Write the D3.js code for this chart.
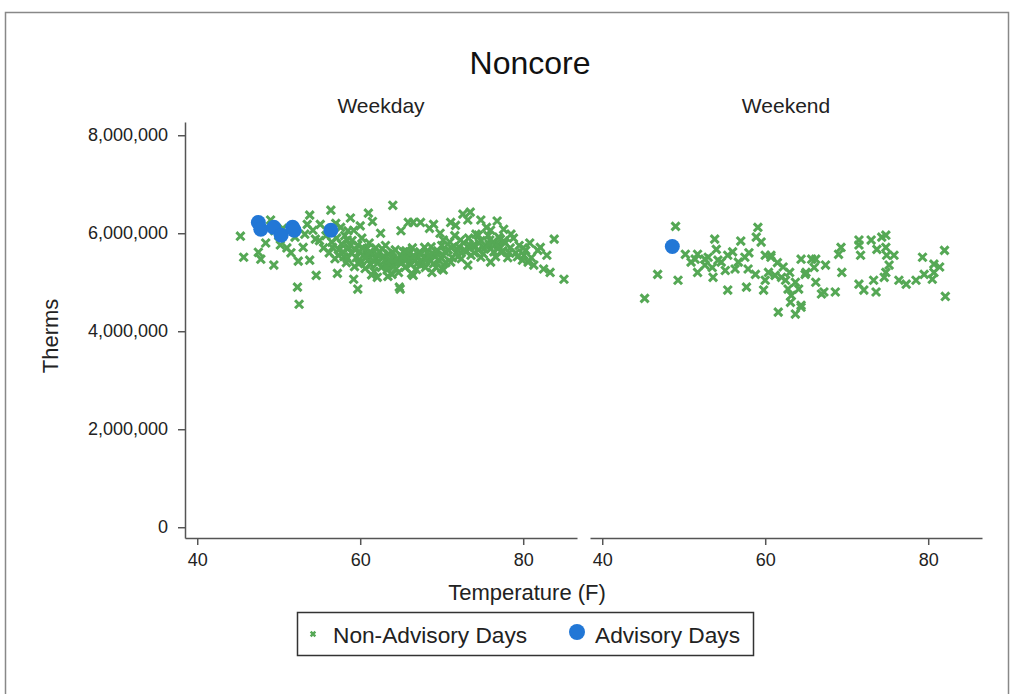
<!DOCTYPE html>
<html>
<head>
<meta charset="utf-8">
<script src="https://cdn.jsdelivr.net/npm/d3@7"></script>
<style>
  body { margin: 0; background: #fff; }
  text { font-family: "Liberation Sans", Arial, sans-serif; fill: #222; }
</style>
</head>
<body>
<main></main>
<script>
// [temperature (F), therms]
const weekdayNonAdvisory = [
  [45.3, 5.94e6], [45.7, 5.51e6], [47.5, 5.61e6], [47.8, 5.47e6], [49.4, 5.35e6],
  [49.0, 6.27e6], [48.4, 5.80e6], [50.2, 5.76e6], [52.3, 4.90e6], [52.5, 4.55e6],
  [52.4, 5.43e6], [51.0, 5.70e6], [53.8, 6.37e6], [56.4, 6.47e6], [58.8, 6.31e6],
  [61.0, 6.41e6], [61.5, 6.24e6], [64.0, 6.57e6], [65.9, 6.22e6], [54.6, 5.14e6],
  [53.8, 5.45e6], [53.0, 5.71e6], [53.2, 5.98e6], [55.1, 6.18e6], [54.2, 6.06e6],
  [57.2, 5.18e6], [59.2, 5.06e6], [59.7, 4.86e6], [64.8, 4.90e6], [62.1, 5.10e6],
  [63.9, 5.16e6], [57.6, 6.12e6], [59.2, 6.06e6], [58.4, 5.86e6], [56.6, 5.71e6],
  [66.5, 6.22e6], [67.4, 6.22e6], [69.0, 6.18e6], [71.1, 6.22e6], [71.7, 6.16e6],
  [72.6, 6.39e6], [73.5, 6.43e6], [74.8, 6.27e6], [73.2, 6.27e6], [77.6, 6.08e6],
  [78.5, 5.98e6], [76.0, 6.06e6], [74.5, 5.96e6], [77.0, 5.92e6], [83.8, 5.88e6],
  [85.0, 5.06e6], [82.1, 5.71e6], [82.9, 5.55e6], [82.5, 5.27e6], [83.3, 5.20e6],
  [80.6, 5.41e6], [80.1, 5.55e6], [81.8, 5.65e6], [70.2, 5.25e6], [66.5, 5.14e6],
  [64.9, 4.86e6], [71.1, 5.41e6], [73.2, 5.35e6], [74.8, 5.51e6], [76.0, 5.41e6],
  [77.3, 5.61e6], [72.3, 5.86e6], [72.0, 5.65e6], [74.0, 5.71e6], [67.9, 5.71e6],
  [69.0, 5.57e6], [67.4, 5.35e6], [65.7, 5.55e6], [70.2, 5.86e6], [75.9, 5.86e6],
  [55.0, 5.85e6], [55.5, 5.70e6], [55.8, 5.95e6], [56.2, 5.60e6], [56.5, 5.82e6],
  [56.9, 5.48e6], [57.1, 5.90e6], [57.4, 5.66e6], [57.7, 5.78e6], [58.0, 5.52e6],
  [58.1, 5.95e6], [58.3, 5.40e6], [58.6, 5.70e6], [58.9, 5.60e6], [59.0, 5.85e6],
  [59.3, 5.32e6], [59.5, 5.50e6], [59.7, 5.76e6], [59.9, 5.62e6], [60.1, 5.42e6],
  [60.2, 5.90e6], [60.4, 5.55e6], [60.6, 5.28e6], [60.8, 5.68e6], [61.0, 5.46e6],
  [61.1, 5.80e6], [61.3, 5.36e6], [61.5, 5.58e6], [61.7, 5.22e6], [61.9, 5.70e6],
  [62.0, 5.48e6], [62.2, 5.40e6], [62.4, 5.62e6], [62.6, 5.30e6], [62.8, 5.52e6],
  [63.0, 5.44e6], [63.1, 5.75e6], [63.3, 5.25e6], [63.5, 5.58e6], [63.7, 5.38e6],
  [63.9, 5.50e6], [64.1, 5.32e6], [64.3, 5.66e6], [64.5, 5.45e6], [64.7, 5.20e6],
  [64.9, 5.55e6], [65.1, 5.40e6], [65.3, 5.62e6], [65.5, 5.30e6], [65.8, 5.48e6],
  [66.0, 5.58e6], [66.2, 5.36e6], [66.4, 5.70e6], [66.7, 5.44e6], [66.9, 5.26e6],
  [67.1, 5.52e6], [67.3, 5.62e6], [67.6, 5.40e6], [67.8, 5.50e6], [68.0, 5.30e6],
  [68.2, 5.60e6], [68.5, 5.45e6], [68.7, 5.72e6], [69.0, 5.38e6], [69.2, 5.52e6],
  [69.5, 5.64e6], [69.7, 5.44e6], [70.0, 5.75e6], [70.2, 5.55e6], [70.5, 5.40e6],
  [70.8, 5.66e6], [71.0, 5.82e6], [71.3, 5.50e6], [71.6, 5.95e6], [71.8, 5.60e6],
  [72.1, 5.72e6], [72.4, 5.48e6], [72.7, 5.80e6], [73.0, 5.62e6], [73.3, 5.90e6],
  [73.6, 5.55e6], [73.9, 5.76e6], [74.2, 5.98e6], [74.5, 5.66e6], [74.8, 5.85e6],
  [75.1, 5.58e6], [75.4, 5.74e6], [75.7, 5.95e6], [76.0, 5.68e6], [76.3, 5.82e6],
  [76.6, 5.52e6], [76.9, 5.76e6], [77.2, 5.88e6], [77.5, 5.64e6], [77.8, 5.80e6],
  [78.1, 5.50e6], [78.4, 5.70e6], [78.8, 5.90e6], [79.1, 5.60e6], [79.5, 5.75e6],
  [79.9, 5.45e6], [80.3, 5.65e6], [80.8, 5.80e6], [81.3, 5.35e6],
  [57.0, 6.20e6], [58.5, 6.05e6], [60.0, 6.15e6], [62.5, 6.00e6], [65.0, 6.05e6],
  [68.5, 6.10e6], [69.8, 6.00e6], [75.5, 6.12e6], [76.8, 6.25e6],
  [49.5, 6.05e6], [50.5, 6.10e6], [52.0, 5.92e6], [53.5, 6.18e6], [54.5, 5.88e6],
  [51.5, 5.60e6], [50.0, 5.95e6],
  [57.3, 5.55e6], [57.9, 5.62e6], [58.4, 5.48e6], [58.8, 5.75e6], [59.4, 5.66e6],
  [59.8, 5.38e6], [60.3, 5.70e6], [60.7, 5.50e6], [61.2, 5.62e6], [61.6, 5.44e6],
  [62.1, 5.56e6], [62.7, 5.68e6], [63.2, 5.34e6], [63.6, 5.46e6], [64.0, 5.60e6],
  [64.4, 5.28e6], [64.8, 5.42e6], [65.2, 5.52e6], [65.6, 5.64e6], [66.1, 5.46e6],
  [66.6, 5.54e6], [67.0, 5.38e6], [67.5, 5.58e6], [68.1, 5.46e6], [68.6, 5.56e6],
  [69.3, 5.30e6], [69.9, 5.50e6], [70.4, 5.62e6], [71.2, 5.70e6], [72.0, 5.52e6],
  [72.8, 5.66e6], [73.4, 5.76e6], [74.0, 5.60e6], [74.6, 5.80e6], [75.2, 5.68e6],
  [75.8, 5.78e6], [76.4, 5.62e6], [77.0, 5.70e6], [77.6, 5.84e6], [78.3, 5.60e6],
  [79.3, 5.52e6], [80.0, 5.70e6], [81.0, 5.50e6], [61.4, 5.15e6], [63.4, 5.12e6],
  [66.3, 5.18e6], [68.8, 5.20e6], [70.0, 5.28e6]
];

const weekdayAdvisory = [
  [47.5, 6.22e6], [47.8, 6.08e6], [49.4, 6.12e6], [50.3, 5.96e6], [51.7, 6.12e6],
  [51.9, 6.06e6], [56.4, 6.06e6]
];

const weekendNonAdvisory = [
  [49.0, 6.14e6], [46.8, 5.16e6], [49.3, 5.04e6], [45.2, 4.67e6], [50.2, 5.57e6],
  [51.7, 5.57e6], [50.9, 5.41e6], [51.7, 5.20e6], [53.0, 5.51e6], [53.8, 5.88e6],
  [54.0, 5.67e6], [53.6, 5.10e6], [54.6, 5.41e6], [55.4, 5.55e6], [55.4, 4.84e6],
  [57.0, 5.84e6], [57.5, 5.51e6], [56.7, 5.41e6], [57.7, 4.90e6], [59.1, 6.12e6],
  [58.9, 5.92e6], [59.5, 5.82e6], [57.9, 5.27e6], [58.8, 5.16e6], [60.0, 5.04e6],
  [59.8, 4.84e6], [60.7, 5.51e6], [60.4, 5.20e6], [62.2, 5.31e6], [62.5, 5.04e6],
  [62.8, 4.86e6], [63.2, 4.73e6], [63.1, 4.59e6], [61.6, 4.39e6], [63.7, 4.35e6],
  [64.4, 4.49e6], [64.4, 5.47e6], [65.7, 5.47e6], [64.9, 5.16e6], [66.2, 5.00e6],
  [67.4, 5.35e6], [67.2, 4.80e6], [63.7, 5.00e6], [64.1, 4.86e6], [61.2, 5.14e6],
  [56.3, 5.27e6], [55.1, 5.24e6], [52.6, 5.35e6], [54.2, 5.45e6], [52.6, 5.47e6],
  [51.4, 5.47e6], [60.7, 5.55e6], [69.3, 5.71e6], [69.0, 5.57e6], [69.4, 5.20e6],
  [68.6, 4.80e6], [66.9, 4.76e6], [66.2, 5.47e6], [64.4, 4.53e6], [71.5, 5.86e6],
  [71.5, 5.76e6], [73.0, 5.86e6], [71.7, 5.55e6], [74.3, 5.92e6], [74.8, 5.96e6],
  [73.7, 5.67e6], [74.8, 5.71e6], [74.9, 5.55e6], [75.8, 5.55e6], [75.2, 5.35e6],
  [74.8, 5.20e6], [74.6, 5.10e6], [71.5, 4.96e6], [72.1, 4.84e6], [73.3, 5.04e6],
  [73.6, 4.80e6], [76.4, 5.04e6], [77.3, 4.96e6], [78.5, 5.04e6], [79.5, 5.16e6],
  [79.3, 5.51e6], [82.0, 5.65e6], [80.7, 5.37e6], [81.4, 5.31e6], [80.7, 5.20e6],
  [80.5, 5.06e6], [82.1, 4.71e6], [53.5, 5.30e6], [56.0, 5.62e6], [58.0, 5.60e6],
  [61.5, 5.40e6], [62.0, 5.10e6], [63.0, 5.20e6], [65.0, 5.20e6], [66.0, 5.30e6],
  [60.0, 5.55e6]
];

const weekendAdvisory = [
  [48.6, 5.73e6]
];

const panelNames = ["Weekday", "Weekend"];
const xTicks = [40, 60, 80];
const yTicks = [0, 2e6, 4e6, 6e6, 8e6];
const seriesNames = ["Non-Advisory Days", "Advisory Days"];

const green = "#55a855";
const blue = "#2277d6";

const width = 1011, height = 694;

const svg = d3.select("main").append("svg")
  .attr("width", width)
  .attr("height", height);

// outer frame
svg.append("rect")
  .attr("x", 5.5).attr("y", 12.5)
  .attr("width", 1003).attr("height", 700)
  .style("fill", "none")
  .style("stroke", "#888")
  .style("stroke-width", 1.5);

// title
svg.append("text")
  .attr("x", 530).attr("y", 74)
  .attr("text-anchor", "middle")
  .style("font-size", "32px")
  .style("fill", "#111")
  .text("Noncore");

const y = d3.scaleLinear().domain([-0.22e6, 8.27e6]).range([538, 122]);

const panels = [
  { name: panelNames[0], left: 185, non: weekdayNonAdvisory, adv: weekdayAdvisory },
  { name: panelNames[1], left: 590, non: weekendNonAdvisory, adv: weekendAdvisory }
];
const panelW = 392;

const xMark = d3.symbol().type(d3.symbolX).size(44);

panels.forEach((p, i) => {
  const x = d3.scaleLinear().domain([38.5, 86.6]).range([p.left, p.left + panelW]);

  const g = svg.append("g").attr("class", "panel");

  // panel header
  g.append("text")
    .attr("x", p.left + panelW / 2).attr("y", 113)
    .attr("text-anchor", "middle")
    .style("font-size", "21px")
    .text(p.name);

  // x axis
  const xa = g.append("g")
    .attr("transform", "translate(0,538)")
    .call(d3.axisBottom(x).tickValues(xTicks).tickSize(7).tickSizeOuter(0).tickPadding(8));
  xa.select(".domain").style("stroke", "#555").style("stroke-width", 1.5);
  xa.selectAll(".tick line").style("stroke", "#555").style("stroke-width", 1.5);
  xa.selectAll(".tick text")
    .style("font-size", "18px")
    .style("font-family", "Liberation Sans, Arial, sans-serif")
    .style("fill", "#222");

  if (i === 0) {
    const ya = g.append("g")
      .attr("transform", `translate(${p.left},0)`)
      .call(d3.axisLeft(y).tickValues(yTicks).tickSize(7).tickSizeOuter(0)
        .tickPadding(10).tickFormat(d3.format(",")));
    ya.select(".domain").style("stroke", "#555").style("stroke-width", 1.5);
    ya.selectAll(".tick line").style("stroke", "#555").style("stroke-width", 1.5);
    ya.selectAll(".tick text")
      .style("font-size", "18px")
      .style("font-family", "Liberation Sans, Arial, sans-serif")
      .style("fill", "#222");
  }

  // non-advisory points
  g.append("g")
    .selectAll("path")
    .data(p.non).enter()
    .append("path")
      .attr("d", xMark)
      .attr("transform", (d) => `translate(${x(d[0])},${y(d[1])})`)
      .style("fill", "none")
      .style("stroke", green)
      .style("stroke-width", 3);

  // advisory points
  g.append("g")
    .selectAll("circle")
    .data(p.adv).enter()
    .append("circle")
      .attr("cx", (d) => x(d[0]))
      .attr("cy", (d) => y(d[1]))
      .attr("r", 7.5)
      .style("fill", blue);
});

// axis titles
svg.append("text")
  .attr("transform", "translate(58,336)rotate(-90)")
  .attr("text-anchor", "middle")
  .style("font-size", "22px")
  .text("Therms");

svg.append("text")
  .attr("x", 527).attr("y", 600)
  .attr("text-anchor", "middle")
  .style("font-size", "22px")
  .text("Temperature (F)");

// legend
const legend = svg.append("g").attr("class", "legend");
legend.append("rect")
  .attr("x", 297.5).attr("y", 612.5)
  .attr("width", 456).attr("height", 43)
  .style("fill", "#fff")
  .style("stroke", "#333")
  .style("stroke-width", 1.5);

legend.append("path")
  .attr("d", d3.symbol().type(d3.symbolX).size(16))
  .attr("transform", "translate(313,634)")
  .style("fill", "none")
  .style("stroke", green)
  .style("stroke-width", 2.4);
legend.append("text")
  .attr("x", 333).attr("y", 643)
  .style("font-size", "22.7px")
  .text(seriesNames[0]);

legend.append("circle")
  .attr("cx", 577).attr("cy", 632).attr("r", 8)
  .style("fill", blue);
legend.append("text")
  .attr("x", 595).attr("y", 643)
  .style("font-size", "22.7px")
  .text(seriesNames[1]);
</script>
</body>
</html>
